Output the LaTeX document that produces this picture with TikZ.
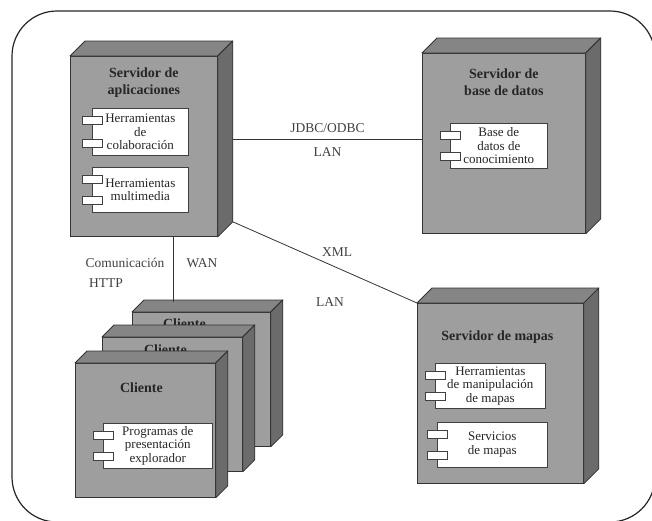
\documentclass[tikz,border=0pt]{standalone}
\usepackage{fontspec}
\setmainfont{Liberation Serif}
\usetikzlibrary{calc}

% front face of a node box; top and right faces added by \boxsides
\tikzset{
  face/.style={draw=black!80, line width=0.8pt, fill=black!38, inner sep=0pt, anchor=north west},
  topface/.style={draw=black!80, line width=0.8pt, fill=black!48, line join=round},
  sideface/.style={draw=black!80, line width=0.8pt, fill=black!58, line join=round},
  title/.style={font=\fontsize{14}{17}\selectfont\bfseries, align=center, text=black!85, inner sep=0pt},
  compbox/.style={draw=black!75, line width=0.6pt, fill=white, anchor=north west, align=center,
    font=\fontsize{13}{13.5}\selectfont, text=black!85, inner sep=1pt},
  tabbox/.style={draw=black!75, line width=0.6pt, fill=white, minimum width=20pt, minimum height=8pt, inner sep=0pt},
  link/.style={draw=black!80, line width=0.8pt},
  lbl/.style={font=\fontsize{13.5}{15}\selectfont, text=black!75, inner sep=0pt},
}

% #1 node name, #2 depth of the box
\newcommand\boxsides[2]{%
  \path[topface] (#1.north west) -- ++(#2pt,#2pt) -- ([shift={(#2pt,#2pt)}]#1.north east) -- (#1.north east) -- cycle;
  \path[sideface] (#1.north east) -- ([shift={(#2pt,#2pt)}]#1.north east) -- ([shift={(#2pt,#2pt)}]#1.south east) -- (#1.south east) -- cycle;
}

% component: #1 name, #2 x, #3 y, #4 width, #5 height, #6 text
\newcommand\component[6]{%
  \node[compbox, minimum width=#4pt, minimum height=#5pt] (#1) at (#2,#3) {#6};
  \node[tabbox] (#1-a) at ([yshift=-12pt]#1.north west) {};
  \node[tabbox] (#1-b) at ([yshift=12pt]#1.south west) {};
}

\begin{document}
\begin{tikzpicture}[x=1pt,y=-1pt]
\useasboundingbox (0,0) rectangle (652,520);

% outer frame
\draw[black!85, line width=1.2pt, rounded corners=45pt] (12,11) rectangle (655,522);

% application server
\node[face, minimum width=147pt, minimum height=180pt] (app) at (70,56) {};
\boxsides{app}{15}
\node[title] (appT) at ([yshift=-27pt]app.north) {Servidor de\\aplicaciones};
\component{colab}{92}{108}{96}{47}{Herramientas\\de\\colaboración}
\component{multi}{92}{167}{96}{45}{Herramientas\\multimedia}

% database server
\node[face, minimum width=163pt, minimum height=180pt] (db) at (422,53) {};
\boxsides{db}{15}
\node[title] (dbT) at ([yshift=-29pt]db.north) {Servidor de\\base de datos};
\component{kb}{450}{123}{97}{45}{Base de\\datos de\\conocimiento}

% map server
\node[face, minimum width=166pt, minimum height=180pt] (map) at (417,303) {};
\boxsides{map}{15}
\node[title] (mapT) at ([shift={(-3pt,-34pt)}]map.north) {Servidor de mapas};
\component{manip}{435}{363}{110}{45}{Herramientas\\de manipulación\\de mapas}
\component{mserv}{437}{422}{110}{45}{Servicios\\de mapas}

% stacked clients, back to front
\node[face, minimum width=138pt, minimum height=134pt] (cl3) at (132,312) {};
\boxsides{cl3}{12}
\node[title] (cl3T) at ([shift={(-17pt,-12pt)}]cl3.north) {Cliente};

\node[face, minimum width=140pt, minimum height=134pt] (cl2) at (102,337) {};
\boxsides{cl2}{12}
\node[title] (cl2T) at ([shift={(-7pt,-13pt)}]cl2.north) {Cliente};

\node[face, minimum width=140pt, minimum height=134pt] (cl1) at (75,363) {};
\boxsides{cl1}{12}
\node[title] (cl1T) at ([shift={(-4pt,-25pt)}]cl1.north) {Cliente};
\component{prog}{103}{423}{109}{45}{Programas de\\presentación\\explorador}

% connections
\path ([shift={(15pt,7pt)}]app.east) coordinate (appJ);
\draw[link] (appJ) -- (appJ -| db.west)
  node[lbl, pos=0.5, above=6pt] (jdbcL) {JDBC/ODBC}
  node[lbl, pos=0.5, below=8pt] (lanL) {LAN};

\draw[link] ([shift={(15pt,15pt)}]app.south east) -- (map.north west);
\node[lbl] (xmlL) at (337,252) {XML};
\node[lbl] (lan2L) at (330,302) {LAN};

\path ([xshift=29.5pt]app.south) coordinate (wanA);
\path ([yshift=10pt]cl3.north) coordinate (cl3top);
\draw[link] (wanA) -- (wanA |- cl3top);
\node[lbl] (comL) at (125,263) {Comunicación};
\node[lbl] (httpL) at (106,283) {HTTP};
\node[lbl] (wanL) at (202,263) {WAN};
\end{tikzpicture}
\end{document}
